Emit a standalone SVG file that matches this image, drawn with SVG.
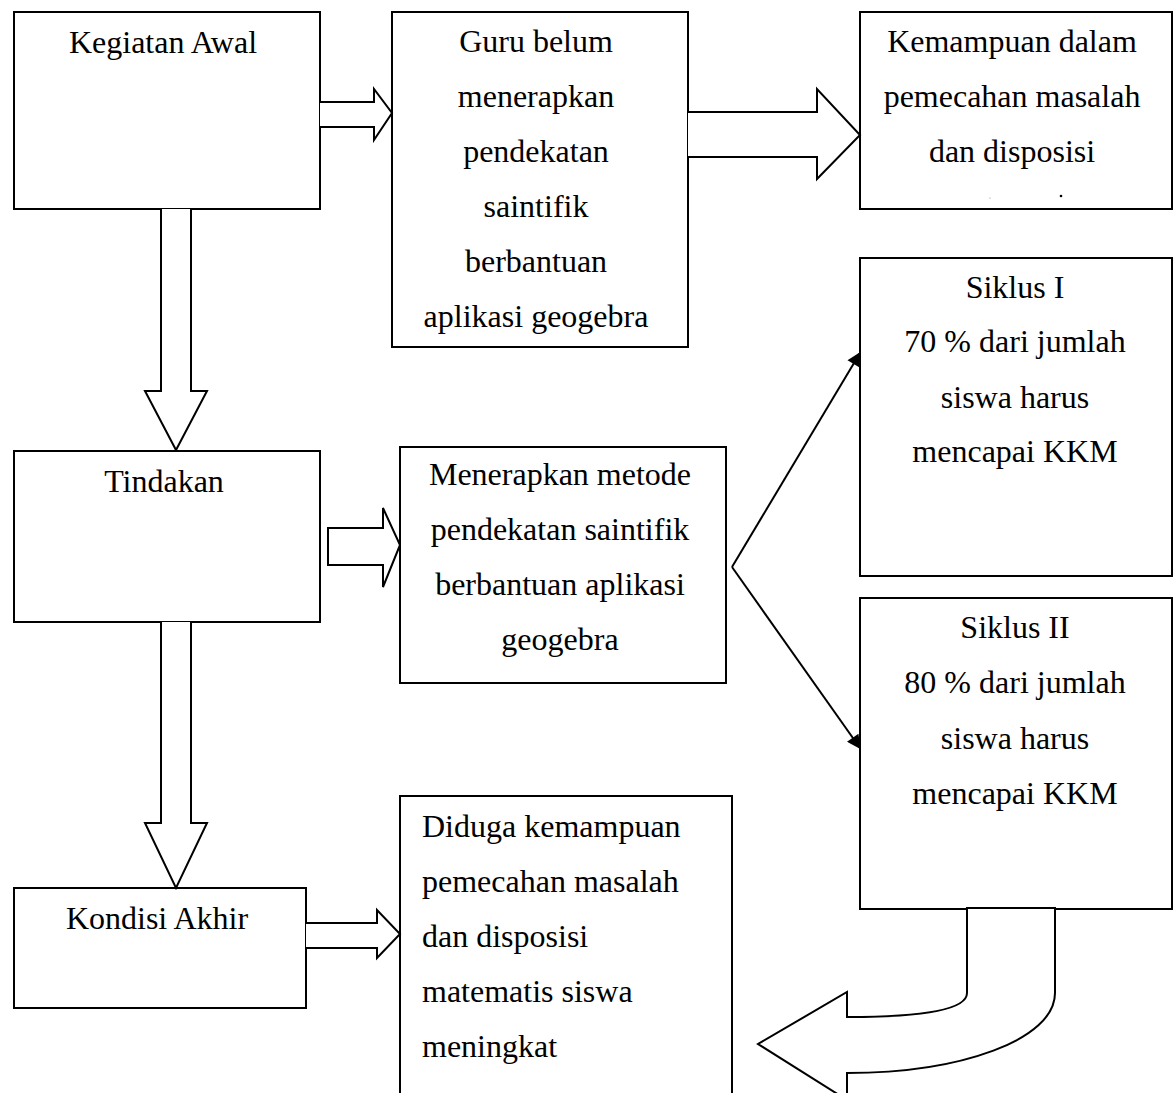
<svg xmlns="http://www.w3.org/2000/svg" width="1176" height="1093" viewBox="0 0 1176 1093">
<defs>
<style>
.box{fill:#fff;stroke:#000;stroke-width:2}
.arr{fill:#fff;stroke:#000;stroke-width:2;stroke-linejoin:miter}
.ln{fill:none;stroke:#000;stroke-width:2}
text{font-family:"Liberation Serif","Times New Roman",serif;font-size:32px;fill:#000}
.c{text-anchor:middle}
</style>
<marker id="ah" viewBox="0 0 10 10" refX="9" refY="5" markerWidth="16" markerHeight="14" orient="auto" markerUnits="userSpaceOnUse">
<path d="M0,0 L10,5 L0,10 z" fill="#000"/>
</marker>
</defs>
<rect width="1176" height="1093" fill="#fff"/>
<g id="n1"><rect class="box" x="14" y="12" width="306" height="197"/><text class="c" x="163" y="53">Kegiatan Awal</text></g>
<g id="n2"><rect class="box" x="392" y="12" width="296" height="335"/>
<text class="c" x="536" y="52">Guru belum</text><text class="c" x="536" y="107">menerapkan</text><text class="c" x="536" y="162">pendekatan</text><text class="c" x="536" y="217">saintifik</text><text class="c" x="536" y="272">berbantuan</text><text class="c" x="536" y="327">aplikasi geogebra</text></g>
<g id="n3"><rect class="box" x="860" y="12" width="312" height="197"/>
<text class="c" x="1012" y="52">Kemampuan dalam</text><text class="c" x="1012" y="107">pemecahan masalah</text><text class="c" x="1012" y="162">dan disposisi</text>
<circle cx="1061" cy="196" r="1.3" fill="#000"/><circle cx="990" cy="198" r="0.6" fill="#888"/></g>
<g id="n4"><rect class="box" x="14" y="451" width="306" height="171"/><text class="c" x="164" y="492">Tindakan</text></g>
<g id="n5"><rect class="box" x="400" y="447" width="326" height="236"/>
<text class="c" x="560" y="485">Menerapkan metode</text><text class="c" x="560" y="540">pendekatan saintifik</text><text class="c" x="560" y="595">berbantuan aplikasi</text><text class="c" x="560" y="650">geogebra</text></g>
<g id="n6"><rect class="box" x="860" y="258" width="312" height="318"/>
<text class="c" x="1015" y="298">Siklus I</text><text class="c" x="1015" y="352">70 % dari jumlah</text><text class="c" x="1015" y="408">siswa harus</text><text class="c" x="1015" y="462">mencapai KKM</text></g>
<g id="n7"><rect class="box" x="860" y="598" width="312" height="311"/>
<text class="c" x="1015" y="638">Siklus II</text><text class="c" x="1015" y="693">80 % dari jumlah</text><text class="c" x="1015" y="749">siswa harus</text><text class="c" x="1015" y="804">mencapai KKM</text></g>
<g id="n8"><rect class="box" x="14" y="888" width="292" height="120"/><text class="c" x="157" y="929">Kondisi Akhir</text></g>
<g id="n9"><rect class="box" x="400" y="796" width="332" height="310"/>
<text x="422" y="837">Diduga kemampuan</text><text x="422" y="892">pemecahan masalah</text><text x="422" y="947">dan disposisi</text><text x="422" y="1002">matematis siswa</text><text x="422" y="1057">meningkat</text></g>
<g id="connectors">
<path class="arr" d="M320,102 H374 V89 L392,113 L374,140 V127 H320"/>
<path class="arr" d="M688,112 H817 V89 L860,135 L817,179 V157 H688"/>
<path class="arr" d="M161,209 V391 H145 L176,450 L207,391 H191 V209"/>
<path class="arr" d="M328,528 H383 V508 L400,545 L383,587 V565 H328 Z"/>
<path class="arr" d="M161,622 V823 H145 L176,888 L207,823 H191 V622"/>
<path class="arr" d="M306,923 H377 V910 L400,934 L377,958 V948 H306"/>
<path class="ln" d="M732,567 L860,353" marker-end="url(#ah)"/>
<path class="ln" d="M732,567 L860,748" marker-end="url(#ah)"/>
<path class="arr" d="M967,908 H1055 V993 C1055,1040 960,1073 847,1073 V1100 L758,1044 L847,992 V1017 C920,1017 967,1010 967,993 Z"/>
</g>
</svg>
